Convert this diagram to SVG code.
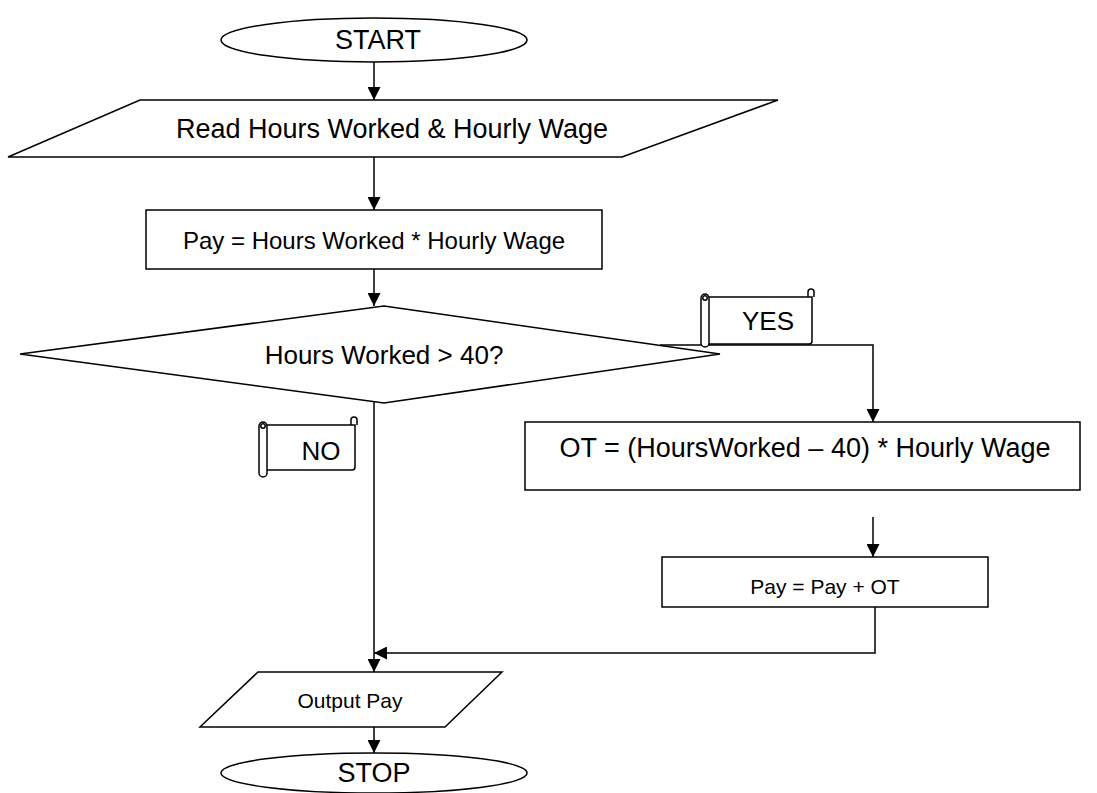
<svg xmlns="http://www.w3.org/2000/svg" width="1097" height="793" viewBox="0 0 1097 793">
<defs>
<style>
.s{fill:#fff;stroke:#000;stroke-width:1.5}
.t{font-family:"Liberation Sans",Arial,sans-serif;font-size:24px;fill:#000;text-anchor:middle;dominant-baseline:central}
.b{font-size:27px}
.m{font-size:26px}
.n{font-size:21px}
.c{fill:none;stroke:#000;stroke-width:1.5}
</style>
<marker id="a" viewBox="0 0 10 10" refX="10" refY="5" markerWidth="13" markerHeight="13" markerUnits="userSpaceOnUse" orient="auto">
<path d="M0,0 L10,5 L0,10 z" fill="#000"/>
</marker>
</defs>
<rect width="1097" height="793" fill="#fff"/>
<g id="connectors">
<line class="c" x1="374" y1="62" x2="374" y2="100" marker-end="url(#a)"/>
<line class="c" x1="374" y1="157" x2="374" y2="210" marker-end="url(#a)"/>
<line class="c" x1="374" y1="269" x2="374" y2="306" marker-end="url(#a)"/>
<polyline class="c" points="660,345 873,345 873,422" marker-end="url(#a)"/>
<line class="c" x1="374" y1="401" x2="374" y2="672" marker-end="url(#a)"/>
<line class="c" x1="873" y1="517" x2="873" y2="557" marker-end="url(#a)"/>
<polyline class="c" points="875,607 875,653 374,653" marker-end="url(#a)"/>
<line class="c" x1="374" y1="727" x2="374" y2="753" marker-end="url(#a)"/>
</g>
<g id="start">
<ellipse class="s" cx="374" cy="40" rx="153" ry="22"/>
<text class="t b" x="378" y="40">START</text>
</g>
<g id="read">
<polygon class="s" points="140,100 778,100 622,157 8,157"/>
<text class="t b" x="392" y="129">Read Hours Worked &amp; Hourly Wage</text>
</g>
<g id="pay">
<rect class="s" x="146" y="210" width="456" height="59"/>
<text class="t" x="374" y="240">Pay = Hours Worked * Hourly Wage</text>
</g>
<g id="decision">
<polygon class="s" points="384,306 720,354 384,403 20,354"/>
<text class="t m" x="384" y="355">Hours Worked &gt; 40?</text>
</g>
<g id="yes">
<path class="s" d="M708,297 H812 V341 Q812,344 809,344 H708 Z"/>
<path class="c" d="M808,297 V292 A3,3 0 1 1 814,292 V297"/>
<rect class="s" x="701" y="294" width="8" height="53" rx="4"/>
<circle class="c" cx="705" cy="298" r="2.2"/>
<text class="t m" x="768" y="321">YES</text>
</g>
<g id="no">
<path class="s" d="M266,425 H355 V467 Q355,470 352,470 H266 Z"/>
<path class="c" d="M351,425 V420 A3,3 0 1 1 357,420 V425"/>
<rect class="s" x="259" y="422" width="8" height="55" rx="4"/>
<circle class="c" cx="263" cy="426" r="2.2"/>
<text class="t m" x="321" y="451">NO</text>
</g>
<g id="ot">
<rect class="s" x="525" y="422" width="555" height="68"/>
<text class="t b" x="805" y="448">OT = (HoursWorked – 40) * Hourly Wage</text>
</g>
<g id="payot">
<rect class="s" x="662" y="557" width="326" height="50"/>
<text class="t n" x="825" y="586">Pay = Pay + OT</text>
</g>
<g id="output">
<polygon class="s" points="258,672 502,672 445,727 200,727"/>
<text class="t n" x="350" y="700">Output Pay</text>
</g>
<g id="stop">
<ellipse class="s" cx="374" cy="773" rx="153" ry="20"/>
<text class="t b" x="374" y="773">STOP</text>
</g>
</svg>
